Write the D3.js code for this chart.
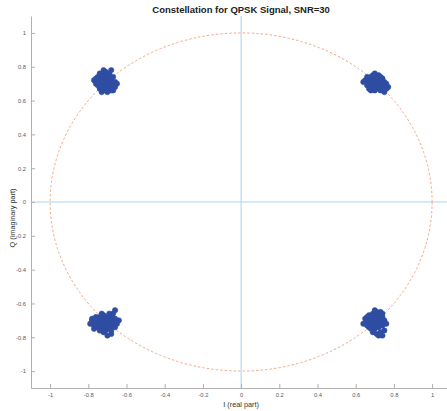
<!DOCTYPE html>
<html><head><meta charset="utf-8">
<script src="https://cdn.jsdelivr.net/npm/d3@7"></script>
<style>body{margin:0;background:#fff}svg{display:block}</style>
</head><body>
<svg id="c" width="447" height="411"></svg>
<script>
const title = "Constellation for QPSK Signal, SNR=30";
const xLabel = "I  (real part)";
const yLabel = "Q  (imaginary part)";
const xDomain = [-1.1, 1.1];
const yDomain = [-1.1, 1.1];
const tickValues = [-1,-0.8,-0.6,-0.4,-0.2,0,0.2,0.4,0.6,0.8,1];
const tickLabels = ["-1","-0.8","-0.6","-0.4","-0.2","0","0.2","0.4","0.6","0.8","1"];
const clusterTL = [[-0.71,0.71],[-0.70,0.72],[-0.72,0.70],[-0.69,0.70],[-0.73,0.73],[-0.74,0.71],[-0.68,0.72],[-0.71,0.68],[-0.70,0.67],[-0.72,0.75],[-0.69,0.76],[-0.75,0.74],[-0.76,0.70],[-0.74,0.67],[-0.67,0.69],[-0.66,0.71],[-0.68,0.66],[-0.72,0.66],[-0.70,0.65],[-0.73,0.68],[-0.71,0.77],[-0.74,0.76],[-0.67,0.74],[-0.66,0.68],[-0.69,0.73],[-0.75,0.69],[-0.76,0.73],[-0.72,0.78],[-0.68,0.78],[-0.70,0.74],[-0.73,0.65],[-0.69,0.68],[-0.71,0.73],[-0.74,0.72],[-0.67,0.66],[-0.65,0.70],[-0.72,0.72],[-0.70,0.69],[-0.77,0.72],[-0.73,0.71]];
const clusterTR = [[0.70,0.71],[0.71,0.70],[0.69,0.72],[0.72,0.72],[0.68,0.70],[0.73,0.69],[0.67,0.72],[0.66,0.71],[0.70,0.74],[0.72,0.75],[0.74,0.73],[0.75,0.71],[0.74,0.68],[0.71,0.67],[0.69,0.68],[0.67,0.69],[0.65,0.72],[0.68,0.74],[0.70,0.66],[0.73,0.66],[0.76,0.70],[0.76,0.67],[0.72,0.68],[0.70,0.68],[0.66,0.74],[0.69,0.75],[0.73,0.74],[0.71,0.73],[0.68,0.66],[0.75,0.65],[0.64,0.71],[0.70,0.76],[0.67,0.67],[0.74,0.71],[0.72,0.70],[0.69,0.70],[0.71,0.69],[0.66,0.69],[0.73,0.72],[0.77,0.68]];
const clusterBL = [[-0.71,-0.71],[-0.72,-0.70],[-0.70,-0.72],[-0.73,-0.72],[-0.74,-0.70],[-0.76,-0.71],[-0.78,-0.70],[-0.79,-0.72],[-0.77,-0.73],[-0.75,-0.74],[-0.73,-0.75],[-0.71,-0.76],[-0.69,-0.75],[-0.68,-0.73],[-0.67,-0.71],[-0.66,-0.69],[-0.68,-0.68],[-0.70,-0.68],[-0.72,-0.67],[-0.74,-0.68],[-0.76,-0.68],[-0.69,-0.66],[-0.67,-0.66],[-0.66,-0.64],[-0.68,-0.78],[-0.70,-0.79],[-0.72,-0.77],[-0.74,-0.76],[-0.77,-0.75],[-0.65,-0.72],[-0.73,-0.69],[-0.75,-0.72],[-0.70,-0.74],[-0.69,-0.70],[-0.71,-0.73],[-0.78,-0.69],[-0.66,-0.74],[-0.72,-0.72],[-0.68,-0.76],[-0.64,-0.70],[-0.73,-0.66],[-0.76,-0.73]];
const clusterBR = [[0.70,-0.71],[0.69,-0.70],[0.71,-0.72],[0.72,-0.70],[0.68,-0.72],[0.67,-0.70],[0.66,-0.71],[0.65,-0.69],[0.70,-0.68],[0.72,-0.67],[0.74,-0.68],[0.73,-0.71],[0.75,-0.70],[0.74,-0.73],[0.72,-0.74],[0.70,-0.75],[0.68,-0.75],[0.66,-0.73],[0.69,-0.66],[0.71,-0.65],[0.73,-0.65],[0.67,-0.67],[0.64,-0.72],[0.69,-0.77],[0.71,-0.78],[0.73,-0.77],[0.75,-0.76],[0.70,-0.73],[0.68,-0.69],[0.71,-0.69],[0.73,-0.69],[0.67,-0.74],[0.72,-0.79],[0.74,-0.79],[0.69,-0.72],[0.71,-0.74],[0.66,-0.68],[0.70,-0.64],[0.74,-0.66],[0.76,-0.72]];
const circleRadius = 1;

const svg = d3.select("#c");
const mLeft = 31, mTop = 16, mBottom = 388;
const x = d3.scaleLinear().domain(xDomain).range([mLeft, mLeft + 2.2*191]);
const y = d3.scaleLinear().domain(yDomain).range([mBottom, mTop]);
const font = "Liberation Sans, Arial, sans-serif";

// crosshair
svg.append("line").attr("x1", x(0)).attr("x2", x(0)).attr("y1", y(yDomain[0])).attr("y2", y(yDomain[1]))
  .attr("stroke", "#a9d2f2").attr("stroke-width", 1);
svg.append("line").attr("x1", x(xDomain[0])).attr("x2", x(xDomain[1])).attr("y1", y(0)).attr("y2", y(0))
  .attr("stroke", "#a9d2f2").attr("stroke-width", 1);

// unit circle
svg.append("ellipse").attr("cx", x(0)).attr("cy", y(0))
  .attr("rx", x(circleRadius) - x(0)).attr("ry", y(0) - y(circleRadius))
  .attr("fill", "none").attr("stroke", "#f4a888").attr("stroke-width", 1)
  .attr("stroke-dasharray", "2.5,2");

// points
const allPts = clusterTL.concat(clusterTR, clusterBL, clusterBR);
svg.append("g").selectAll("circle").data(allPts).join("circle")
  .attr("cx", d => x(d[0])).attr("cy", d => y(d[1])).attr("r", 2.7)
  .attr("fill", "#2f4da2").attr("stroke", "#2f4da2").attr("stroke-width", 0.5);

// axes
const axColor = "#b0b0b0";
const gx = svg.append("g").attr("transform", `translate(0,${mBottom})`)
  .call(d3.axisBottom(x).tickValues(tickValues).tickFormat((d,i) => tickLabels[i]).tickSizeInner(-4).tickSizeOuter(0).tickPadding(5));
const gy = svg.append("g").attr("transform", `translate(${mLeft},0)`)
  .call(d3.axisLeft(y).tickValues(tickValues).tickFormat((d,i) => tickLabels[i]).tickSizeInner(-4).tickSizeOuter(0).tickPadding(5));
[gx, gy].forEach(g => {
  g.select(".domain").attr("stroke", axColor);
  g.selectAll(".tick line").attr("stroke", axColor);
  g.selectAll(".tick text").attr("fill", "#5a5a5a").attr("font-size", 5.8).attr("font-family", font);
});

svg.append("text").attr("x", x(0)).attr("y", 13).attr("text-anchor", "middle")
  .attr("font-family", font).attr("font-size", 9.5).attr("font-weight", "bold").attr("fill", "#222").text(title);
svg.append("text").attr("x", x(0)).attr("y", 407).attr("text-anchor", "middle")
  .attr("font-family", font).attr("font-size", 7.3).attr("fill", "#333").text(xLabel);
svg.append("text").attr("transform", `translate(14.5,218) rotate(-90)`).attr("text-anchor", "middle")
  .attr("font-family", font).attr("font-size", 7.3).attr("fill", "#333").text(yLabel);
</script>
</body></html>
